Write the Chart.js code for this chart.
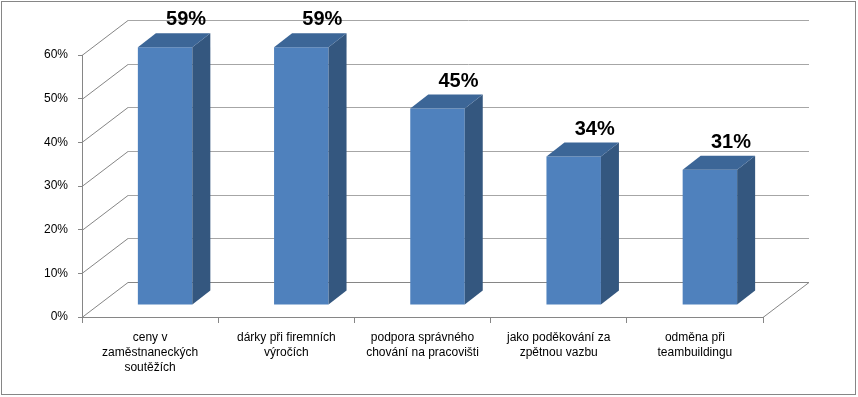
<!DOCTYPE html>
<html>
<head>
<meta charset="utf-8">
<script src="https://cdn.jsdelivr.net/npm/chart.js@4"></script>
<style>
  html, body { margin: 0; padding: 0; background: #fff; }
  canvas { display: block; }
</style>
</head>
<body>
<canvas id="chart" width="858" height="397"></canvas>
<script>
// === Data ===
const categories = [
    ['ceny v', 'zaměstnaneckých', 'soutěžích'],
    ['dárky při firemních', 'výročích'],
    ['podpora správného', 'chování na pracovišti'],
    ['jako poděkování za', 'zpětnou vazbu'],
    ['odměna při', 'teambuildingu']
];
const values = [59, 59, 45, 34, 31];
const yTicks = [0, 10, 20, 30, 40, 50, 60];

// === 3D look ===
const WALL_DX = 46, WALL_DY = 35;   // depth of the back wall
const BAR_DX = 15, BAR_DY = 12;     // where the bars stand in the depth
const SIDE_DX = 18, SIDE_DY = 14;   // depth of each bar
const AXIS_COLOR = '#868686';
const GRID_COLOR = '#a6a6a6';

const frame3d = {
    id: 'frame3d',
    beforeDraw(chart) {
        const ctx = chart.ctx;
        ctx.save();
        ctx.fillStyle = '#fff';
        ctx.fillRect(0, 0, chart.width, chart.height);
        ctx.strokeStyle = AXIS_COLOR;
        ctx.lineWidth = 1;
        ctx.strokeRect(1.5, 1.5, chart.width - 4, chart.height - 4);
        ctx.restore();
    },
    beforeDatasetsDraw(chart) {
        const ctx = chart.ctx;
        const y = chart.scales.y;
        const { left, right, bottom } = chart.chartArea;
        ctx.save();
        ctx.lineWidth = 1;
        // back wall lines and left wall diagonals
        yTicks.forEach(v => {
            const py = Math.round(y.getPixelForValue(v)) + 0.5;
            ctx.strokeStyle = AXIS_COLOR;
            ctx.beginPath();
            ctx.moveTo(left, py);
            ctx.lineTo(left + WALL_DX, py - WALL_DY);
            ctx.stroke();
            ctx.strokeStyle = v === 0 ? AXIS_COLOR : GRID_COLOR;
            ctx.beginPath();
            ctx.moveTo(left + WALL_DX, py - WALL_DY);
            ctx.lineTo(right + WALL_DX, py - WALL_DY);
            ctx.stroke();
        });
        // floor right edge
        const by = Math.round(bottom) + 0.5;
        ctx.strokeStyle = AXIS_COLOR;
        ctx.beginPath();
        ctx.moveTo(right, by);
        ctx.lineTo(right + WALL_DX, by - WALL_DY);
        ctx.stroke();
        ctx.restore();

        // bars stand inside the depth
        ctx.save();
        ctx.translate(BAR_DX, -BAR_DY);
    },
    afterDatasetsDraw(chart) {
        const ctx = chart.ctx;
        const bars = chart.getDatasetMeta(0).data;
        bars.forEach(bar => {
            const { x, y, base, width } = bar.getProps(['x', 'y', 'base', 'width'], true);
            const l = x - width / 2, r = x + width / 2;
            // side
            ctx.fillStyle = '#34577f';
            ctx.beginPath();
            ctx.moveTo(r, y);
            ctx.lineTo(r + SIDE_DX, y - SIDE_DY);
            ctx.lineTo(r + SIDE_DX, base - SIDE_DY);
            ctx.lineTo(r, base);
            ctx.closePath();
            ctx.fill();
            // top
            ctx.fillStyle = '#3c6697';
            ctx.beginPath();
            ctx.moveTo(l, y);
            ctx.lineTo(l + SIDE_DX, y - SIDE_DY);
            ctx.lineTo(r + SIDE_DX, y - SIDE_DY);
            ctx.lineTo(r, y);
            ctx.closePath();
            ctx.fill();
        });
        // value labels
        ctx.fillStyle = '#000';
        ctx.font = 'bold 20px "Liberation Sans", Arial, sans-serif';
        ctx.textAlign = 'center';
        ctx.textBaseline = 'alphabetic';
        bars.forEach((bar, i) => {
            ctx.fillText(values[i] + '%', bar.x + 21, bar.y - 22);
        });
        ctx.restore();
    }
};

new Chart(document.getElementById('chart'), {
    type: 'bar',
    data: {
        labels: categories,
        datasets: [{
            data: values,
            backgroundColor: '#4f81bd',
            borderWidth: 0,
            barPercentage: 1,
            categoryPercentage: 0.4,
            clip: false
        }]
    },
    options: {
        responsive: false,
        animation: false,
        devicePixelRatio: 1,
        layout: { padding: { left: 0, right: 95, top: 55, bottom: 0 } },
        plugins: {
            legend: { display: false },
            tooltip: { enabled: false }
        },
        scales: {
            x: {
                afterFit: s => { s.height = 80; },
                grid: {
                    offset: true,
                    drawOnChartArea: false,
                    drawTicks: true,
                    tickLength: 6,
                    color: AXIS_COLOR
                },
                border: { display: true, color: AXIS_COLOR },
                ticks: {
                    color: '#000',
                    font: { family: '"Liberation Sans", Arial, sans-serif', size: 12, lineHeight: 1.25 },
                    padding: 7,
                    maxRotation: 0,
                    autoSkip: false
                }
            },
            y: {
                min: 0,
                max: 60,
                afterFit: s => { s.width = 82; },
                afterBuildTicks: s => { s.ticks = yTicks.map(v => ({ value: v })); },
                grid: {
                    drawOnChartArea: false,
                    drawTicks: true,
                    tickLength: 4,
                    color: AXIS_COLOR
                },
                border: { display: true, color: AXIS_COLOR },
                ticks: {
                    color: '#000',
                    font: { family: '"Liberation Sans", Arial, sans-serif', size: 12 },
                    padding: 10,
                    callback: v => v + '%'
                }
            }
        }
    },
    plugins: [frame3d]
});
</script>
</body>
</html>
